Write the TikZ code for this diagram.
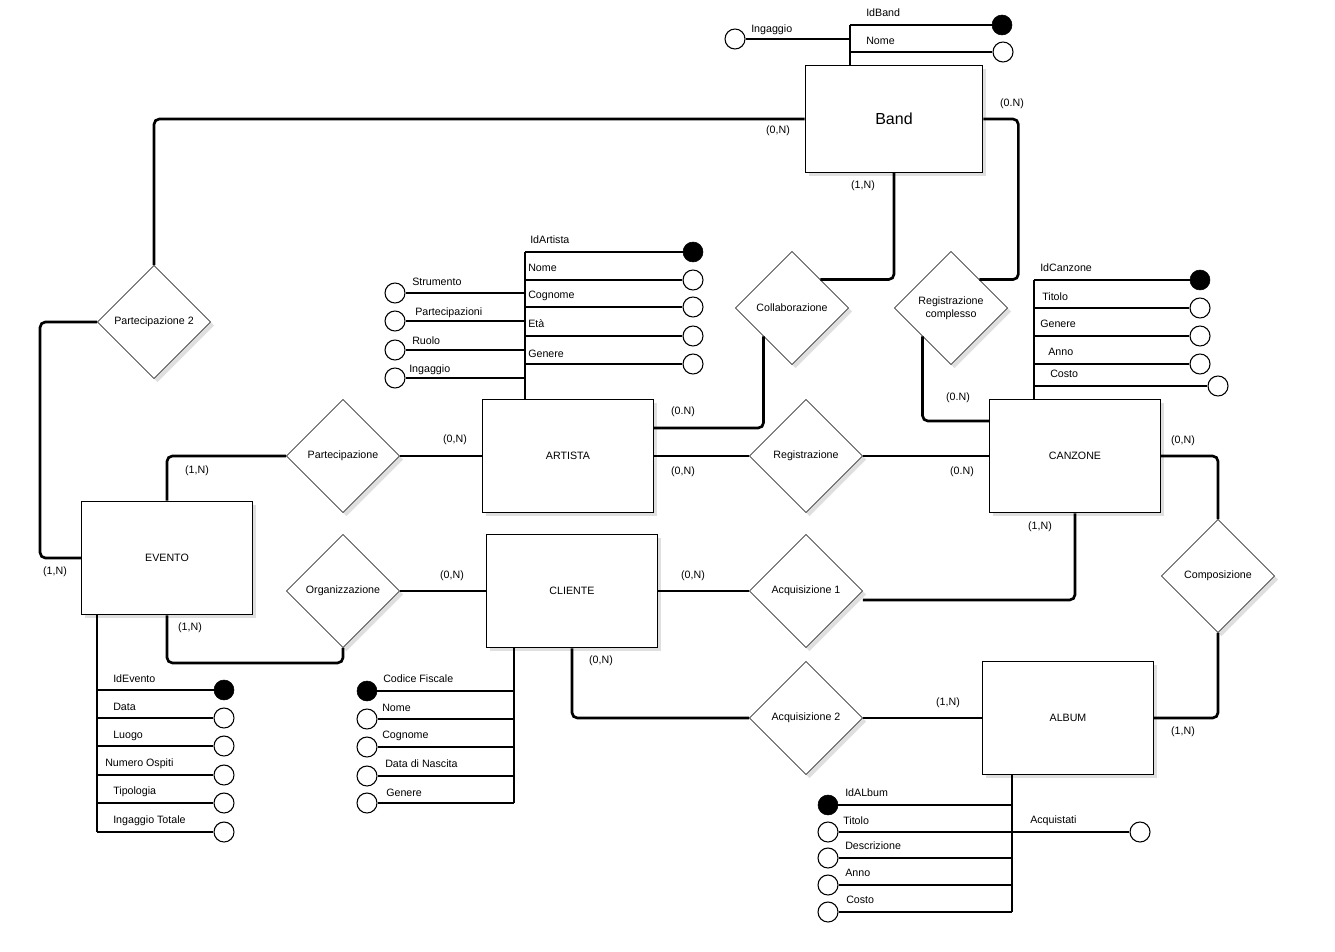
\documentclass[tikz,border=0pt]{standalone}
\usepackage{fontspec}
\setmainfont{Liberation Sans}
\usetikzlibrary{shapes.geometric,shadows}
\begin{document}
\begin{tikzpicture}[x=0.75pt, y=-0.75pt, font=\fontsize{8}{9.5}\selectfont,
    entity/.style={draw, line width=1pt, fill=white, minimum width=128pt, minimum height=85pt, drop shadow={opacity=0.25}},
    relation/.style={draw, diamond, aspect=1, fill=white, minimum width=85pt, minimum height=85pt, inner sep=0pt, align=center, drop shadow={opacity=0.25}},
    link/.style={line width=2pt, rounded corners=4pt},
    attr/.style={line width=1pt},
    key/.style={circle, draw, fill=black, minimum size=15pt, inner sep=0pt},
    opt/.style={circle, draw, fill=white, minimum size=15pt, inner sep=0pt, line width=0.8pt},
    card/.style={inner sep=0pt},
    lbl/.style={anchor=west, inner sep=0pt}]
  \useasboundingbox (0,0) rectangle (1335,952);

  % entita
  \node[entity, minimum width=133pt, minimum height=80pt, font=\fontsize{12}{14}\selectfont] (band) at (894,119) {Band};
  \node[entity] (artista) at (568,456) {ARTISTA};
  \node[entity] (canzone) at (1075,456) {CANZONE};
  \node[entity] (evento) at (167,558) {EVENTO};
  \node[entity] (cliente) at (572,591) {CLIENTE};
  \node[entity] (album) at (1068,718) {ALBUM};

  % relazioni
  \node[relation] (part2) at (154,322) {Partecipazione 2};
  \node[relation] (partec) at (343,456) {Partecipazione};
  \node[relation] (organ) at (343,591) {Organizzazione};
  \node[relation] (collab) at (792,308) {Collaborazione};
  \node[relation] (regc) at (951,308) {Registrazione\\complesso};
  \node[relation] (reg) at (806,456) {Registrazione};
  \node[relation] (acq1) at (806,591) {Acquisizione 1};
  \node[relation] (acq2) at (806,718) {Acquisizione 2};
  \node[relation] (comp) at (1218,576) {Composizione};

  % collegamenti
  \draw[link] (band.west) -| (part2.north);
  \draw[link] (part2.west) -- ++(-57,0) |- (evento.west);
  \draw[link] (band.south) |- (collab.north east);
  \draw[link] (band.east) -- ++(35,0) |- (regc.north east);
  \draw[link] (artista.east) ++(0,-28) -| (collab.south west);
  \draw[link] (canzone.west) ++(0,-35) -| (regc.south west);
  \draw[link] (artista.east) -- (reg.west);
  \draw[link] (reg.east) -- (canzone.west);
  \draw[link] (partec.west) -| (evento.north);
  \draw[link] (partec.east) -- (artista.west);
  \draw[link] (organ.east) -- (cliente.west);
  \draw[link] (organ.south) -- ++(0,15) -| (evento.south);
  \draw[link] (cliente.east) -- (acq1.west);
  \draw[link] (acq1.east) ++(0,9) -| (canzone.south);
  \draw[link] (canzone.east) -| (comp.north);
  \draw[link] (comp.south) |- (album.east);
  \draw[link] (cliente.south) |- (acq2.west);
  \draw[link] (acq2.east) -- (album.west);

  % cardinalita
  \node[card] (c1) at (778,131) {(0,N)};
  \node[card] (c2) at (1012,104) {(0.N)};
  \node[card] (c3) at (863,186) {(1,N)};
  \node[card] (c4) at (683,412) {(0.N)};
  \node[card] (c5) at (683,472) {(0,N)};
  \node[card] (c6) at (962,472) {(0.N)};
  \node[card] (c7) at (958,398) {(0.N)};
  \node[card] (c8) at (455,440) {(0,N)};
  \node[card] (c9) at (197,471) {(1,N)};
  \node[card] (c10) at (55,572) {(1,N)};
  \node[card] (c11) at (452,576) {(0,N)};
  \node[card] (c12) at (190,628) {(1,N)};
  \node[card] (c13) at (693,576) {(0,N)};
  \node[card] (c14) at (1040,527) {(1,N)};
  \node[card] (c15) at (1183,441) {(0,N)};
  \node[card] (c16) at (1183,732) {(1,N)};
  \node[card] (c17) at (601,661) {(0,N)};
  \node[card] (c18) at (948,703) {(1,N)};

  % attributi Band
  \coordinate (bandspine) at (850,25);
  \node[key] (idband) at (1002,25) {};
  \node[opt] (bandnome) at (1003,52) {};
  \node[opt] (bandingaggio) at (735,39) {};
  \draw[attr] (bandspine) -- (bandspine |- band.north);
  \draw[attr] (bandspine) -- (idband);
  \draw[attr] (bandspine |- bandnome) -- (bandnome);
  \draw[attr] (bandspine |- bandingaggio) -- (bandingaggio);
  \node[lbl] (lidband) at (866,13) {IdBand};
  \node[lbl] (lbandnome) at (866,41) {Nome};
  \node[lbl] (lbandingaggio) at (751,30) {Ingaggio};

  % attributi ARTISTA
  \coordinate (artspine) at (525,252);
  \node[key] (idartista) at (693,252) {};
  \node[opt] (artnome) at (693,280) {};
  \node[opt] (artcognome) at (693,307) {};
  \node[opt] (arteta) at (693,336) {};
  \node[opt] (artgenere) at (693,364) {};
  \node[opt] (artstrumento) at (395,293) {};
  \node[opt] (artpartecip) at (395,321) {};
  \node[opt] (artruolo) at (395,350) {};
  \node[opt] (artingaggio) at (395,378) {};
  \draw[attr] (artspine) -- (artspine |- artista.north);
  \draw[attr] (artspine) -- (idartista);
  \draw[attr] (artspine |- artnome) -- (artnome);
  \draw[attr] (artspine |- artcognome) -- (artcognome);
  \draw[attr] (artspine |- arteta) -- (arteta);
  \draw[attr] (artspine |- artgenere) -- (artgenere);
  \draw[attr] (artspine |- artstrumento) -- (artstrumento);
  \draw[attr] (artspine |- artpartecip) -- (artpartecip);
  \draw[attr] (artspine |- artruolo) -- (artruolo);
  \draw[attr] (artspine |- artingaggio) -- (artingaggio);
  \node[lbl] (lidartista) at (530,240) {IdArtista};
  \node[lbl] (lartnome) at (528,268) {Nome};
  \node[lbl] (lartcognome) at (528,296) {Cognome};
  \node[lbl] (larteta) at (528,324) {Età};
  \node[lbl] (lartgenere) at (528,354) {Genere};
  \node[lbl] (lartstrumento) at (412,282) {Strumento};
  \node[lbl] (lartpartecip) at (415,313) {Partecipazioni};
  \node[lbl] (lartruolo) at (412,341) {Ruolo};
  \node[lbl] (lartingaggio) at (409,370) {Ingaggio};

  % attributi CANZONE
  \coordinate (canspine) at (1034,280);
  \node[key] (idcanzone) at (1200,280) {};
  \node[opt] (cantitolo) at (1200,308) {};
  \node[opt] (cangenere) at (1200,336) {};
  \node[opt] (cananno) at (1200,364) {};
  \node[opt] (cancosto) at (1218,386) {};
  \draw[attr] (canspine) -- (canspine |- canzone.north);
  \draw[attr] (canspine) -- (idcanzone);
  \draw[attr] (canspine |- cantitolo) -- (cantitolo);
  \draw[attr] (canspine |- cangenere) -- (cangenere);
  \draw[attr] (canspine |- cananno) -- (cananno);
  \draw[attr] (canspine |- cancosto) -- (cancosto);
  \node[lbl] (lidcanzone) at (1040,268) {IdCanzone};
  \node[lbl] (lcantitolo) at (1042,297) {Titolo};
  \node[lbl] (lcangenere) at (1040,324) {Genere};
  \node[lbl] (lcananno) at (1048,352) {Anno};
  \node[lbl] (lcancosto) at (1050,374) {Costo};

  % attributi EVENTO
  \coordinate (evspine) at (97,832);
  \node[key] (idevento) at (224,690) {};
  \node[opt] (evdata) at (224,718) {};
  \node[opt] (evluogo) at (224,746) {};
  \node[opt] (evospiti) at (224,775) {};
  \node[opt] (evtipologia) at (224,803) {};
  \node[opt] (evingaggio) at (224,832) {};
  \draw[attr] (evspine) -- (evspine |- evento.south);
  \draw[attr] (evspine |- idevento) -- (idevento);
  \draw[attr] (evspine |- evdata) -- (evdata);
  \draw[attr] (evspine |- evluogo) -- (evluogo);
  \draw[attr] (evspine |- evospiti) -- (evospiti);
  \draw[attr] (evspine |- evtipologia) -- (evtipologia);
  \draw[attr] (evspine) -- (evingaggio);
  \node[lbl] (lidevento) at (113,679) {IdEvento};
  \node[lbl] (levdata) at (113,707) {Data};
  \node[lbl] (levluogo) at (113,736) {Luogo};
  \node[lbl] (levospiti) at (105,764) {Numero Ospiti};
  \node[lbl] (levtipologia) at (113,792) {Tipologia};
  \node[lbl] (levingaggio) at (113,821) {Ingaggio Totale};

  % attributi CLIENTE
  \coordinate (clspine) at (514,803);
  \node[key] (clcf) at (367,691) {};
  \node[opt] (clnome) at (367,719) {};
  \node[opt] (clcognome) at (367,747) {};
  \node[opt] (clnascita) at (367,776) {};
  \node[opt] (clgenere) at (367,803) {};
  \draw[attr] (clspine) -- (clspine |- cliente.south);
  \draw[attr] (clspine |- clcf) -- (clcf);
  \draw[attr] (clspine |- clnome) -- (clnome);
  \draw[attr] (clspine |- clcognome) -- (clcognome);
  \draw[attr] (clspine |- clnascita) -- (clnascita);
  \draw[attr] (clspine) -- (clgenere);
  \node[lbl] (lclcf) at (383,679) {Codice Fiscale};
  \node[lbl] (lclnome) at (382,708) {Nome};
  \node[lbl] (lclcognome) at (382,736) {Cognome};
  \node[lbl] (lclnascita) at (385,764) {Data di Nascita};
  \node[lbl] (lclgenere) at (386,793) {Genere};

  % attributi ALBUM
  \coordinate (alspine) at (1012,912);
  \node[key] (idalbum) at (828,805) {};
  \node[opt] (altitolo) at (828,832) {};
  \node[opt] (aldescr) at (828,858) {};
  \node[opt] (alanno) at (828,885) {};
  \node[opt] (alcosto) at (828,912) {};
  \node[opt] (alacquistati) at (1140,832) {};
  \draw[attr] (alspine) -- (alspine |- album.south);
  \draw[attr] (alspine |- idalbum) -- (idalbum);
  \draw[attr] (alspine |- altitolo) -- (altitolo);
  \draw[attr] (alspine |- aldescr) -- (aldescr);
  \draw[attr] (alspine |- alanno) -- (alanno);
  \draw[attr] (alspine) -- (alcosto);
  \draw[attr] (alspine |- alacquistati) -- (alacquistati);
  \node[lbl] (lidalbum) at (845,793) {IdALbum};
  \node[lbl] (laltitolo) at (843,821) {Titolo};
  \node[lbl] (laldescr) at (845,846) {Descrizione};
  \node[lbl] (lalanno) at (845,873) {Anno};
  \node[lbl] (lalcosto) at (846,900) {Costo};
  \node[lbl] (lalacquistati) at (1030,821) {Acquistati};
\end{tikzpicture}
\end{document}
